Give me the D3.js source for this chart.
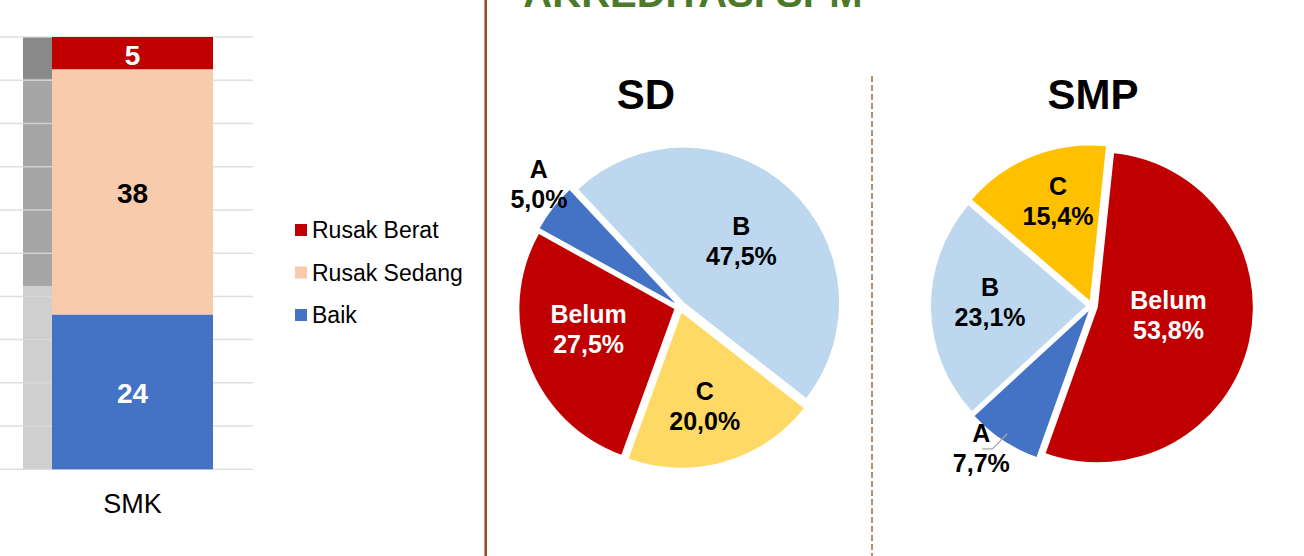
<!DOCTYPE html>
<html>
<head>
<meta charset="utf-8">
<script src="https://cdn.jsdelivr.net/npm/d3@7"></script>
<style>
	html, body { margin: 0; padding: 0; background: #fff; }
	svg { display: block; font-family: "Liberation Sans", Arial, sans-serif; }
</style>
</head>
<body>
<svg id="chart" width="1304" height="556"></svg>
<script>
// ---- data ----
const barCategories = [ "SMK" ];
const barSeries = [ "Baik", "Rusak Sedang", "Rusak Berat" ];
const barBaik = [ 24 ];
const barRusakSedang = [ 38 ];
const barRusakBerat = [ 5 ];
const legendOrder = [ "Rusak Berat", "Rusak Sedang", "Baik" ];
// partly hidden neighbour column on the left edge (shares, bottom to top)
const hiddenShares = [ 0.424, 0.479, 0.097 ];

const pieCategories = [ "Belum", "A", "B", "C" ];
const sdValues = [ 27.5, 5.0, 47.5, 20.0 ];
const smpValues = [ 53.8, 7.7, 23.1, 15.4 ];
const pieTitles = [ "SD", "SMP" ];
const mainTitle = "AKREDITASI SPM";

// ---- styles / layout ----
const barColors = { "Baik": "#4472c4", "Rusak Sedang": "#f8cbad", "Rusak Berat": "#c00000" };
const barLabelColors = { "Baik": "#fff", "Rusak Sedang": "#000", "Rusak Berat": "#fff" };
const hiddenColors = [ "#cfcfcf", "#a6a6a6", "#898989" ];
const sdColors = { "Belum": "#c00000", "A": "#4472c4", "B": "#bdd7ee", "C": "#ffd966" };
const smpColors = { "Belum": "#c00000", "A": "#4472c4", "B": "#bdd7ee", "C": "#ffc000" };
// label placement: [angle nudge from slice middle (deg), distance from centre (px)]
const sdLabelPlace = [ [ 7, 94 ], [ 3, 187 ], [ 0.5, 90 ], [ 2, 102 ] ];
const smpLabelPlace = [ [ -6, 77 ], [ 4.4, 180 ], [ 3, 102 ], [ 3.7, 110 ] ];

const svg = d3.select( "#chart" );

// ---- stacked bar (100%) ----
const y = d3.scaleLinear().domain([ 0, 1 ]).range([ 469.3, 37 ]);
const x = d3.scaleBand().domain( barCategories ).range([ 52, 213 ]).padding( 0 );

const hiddenStack = d3.cumsum( hiddenShares );
svg.append( "g" ).selectAll( "rect" )
	.data( hiddenShares )
	.join( "rect" )
	.attr( "x", 23 )
	.attr( "width", 29 )
	.attr( "y", ( d, i )=> y( hiddenStack[i] ) )
	.attr( "height", ( d, i )=> y( hiddenStack[i] - d ) - y( hiddenStack[i] ) )
	.attr( "fill", ( d, i )=> hiddenColors[i] );

svg.append( "g" ).selectAll( "line" )
	.data( y.ticks( 10 ) )
	.join( "line" )
	.attr( "x1", 0 ).attr( "x2", 253 )
	.attr( "y1", d => y( d ) ).attr( "y2", d => y( d ) )
	.attr( "stroke", "#d9d9d9" )
	.attr( "stroke-opacity", 0.85 )
	.attr( "stroke-width", 1.5 );

const barRows = barCategories.map(( c, i )=> {
	return { cat: c, "Baik": barBaik[i], "Rusak Sedang": barRusakSedang[i], "Rusak Berat": barRusakBerat[i] };
});
const stack = d3.stack().keys( barSeries ).offset( d3.stackOffsetExpand );
const layers = stack( barRows );

const gBars = svg.append( "g" );
layers.forEach( layer => {
	gBars.selectAll( null )
		.data( layer )
		.join( "rect" )
		.attr( "x", d => x( d.data.cat ) )
		.attr( "width", x.bandwidth() )
		.attr( "y", d => y( d[1] ) )
		.attr( "height", d => y( d[0] ) - y( d[1] ) )
		.attr( "fill", barColors[ layer.key ] );
	gBars.selectAll( null )
		.data( layer )
		.join( "text" )
		.attr( "x", d => x( d.data.cat ) + x.bandwidth() / 2 )
		.attr( "y", d => ( y( d[0] ) + y( d[1] ) ) / 2 + 11.5 )
		.attr( "text-anchor", "middle" )
		.attr( "font-size", 28 )
		.attr( "font-weight", "bold" )
		.attr( "fill", barLabelColors[ layer.key ] )
		.text( d => d.data[ layer.key ] );
});

svg.append( "g" ).selectAll( "text" )
	.data( barCategories )
	.join( "text" )
	.attr( "x", d => x( d ) + x.bandwidth() / 2 )
	.attr( "y", 513 )
	.attr( "text-anchor", "middle" )
	.attr( "font-size", 27 )
	.text( d => d );

// legend
const legend = svg.append( "g" ).attr( "transform", "translate(295,238)" );
const legItems = legend.selectAll( "g" )
	.data( legendOrder )
	.join( "g" )
	.attr( "transform", ( d, i )=> "translate(0," + ( i * 42.5 ) + ")" );
legItems.append( "rect" )
	.attr( "x", 0 ).attr( "y", -14 )
	.attr( "width", 12 ).attr( "height", 12 )
	.attr( "fill", d => barColors[d] );
legItems.append( "text" )
	.attr( "x", 17 ).attr( "y", 0 )
	.attr( "font-size", 23 )
	.attr( "fill", "#000" )
	.text( d => d );

// ---- separators and title ----
svg.append( "line" )
	.attr( "x1", 485.7 ).attr( "x2", 485.7 )
	.attr( "y1", 0 ).attr( "y2", 556 )
	.attr( "stroke", "#9c4f1f" ).attr( "stroke-width", 2.6 );

svg.append( "line" )
	.attr( "x1", 872 ).attr( "x2", 872 )
	.attr( "y1", 76 ).attr( "y2", 556 )
	.attr( "stroke", "#b5835a" ).attr( "stroke-width", 1.8 )
	.attr( "stroke-dasharray", "6,3" );

// title sits mostly above the visible area, as in the source slide
svg.append( "text" )
	.attr( "x", 693 ).attr( "y", 7 )
	.attr( "text-anchor", "middle" )
	.attr( "font-size", 40 )
	.attr( "font-weight", "bold" )
	.attr( "fill", "#4b7a2b" )
	.text( mainTitle );

// ---- pies ----
function drawPie( values, colors, place, title, titleX, cx, cy, startDeg ){
	const radius = 155;
	const explode = 6;
	const rad = Math.PI / 180;
	const start = startDeg * rad;
	const pie = d3.pie()
				.sort( null )
				.startAngle( start )
				.endAngle( start + 2 * Math.PI )
				.value( d => d.value );
	const arc = d3.arc().innerRadius( 0 ).outerRadius( radius );
	const data = pieCategories.map(( c, i )=> ({ cat: c, value: values[i], idx: i }));
	const arcs = pie( data );
	const mid = a => ( a.startAngle + a.endAngle ) / 2;
	const polar = ( ang, r )=> [ Math.sin( ang ) * r, -Math.cos( ang ) * r ];
	const labelPos = d => polar( mid( d ) + place[ d.data.idx ][0] * rad, place[ d.data.idx ][1] );

	const g = svg.append( "g" ).attr( "transform", "translate(" + cx + "," + cy + ")" );
	g.selectAll( "path" )
		.data( arcs )
		.join( "path" )
		.attr( "d", arc )
		.attr( "fill", d => colors[ d.data.cat ] )
		.attr( "transform", d => "translate(" + polar( mid( d ), explode ) + ")" );

	const labels = g.selectAll( "text.lbl" )
		.data( arcs )
		.join( "text" )
		.attr( "class", "lbl" )
		.attr( "text-anchor", "middle" )
		.attr( "font-size", 25 )
		.attr( "font-weight", "bold" )
		.attr( "fill", d => d.data.cat === "Belum" ? "#fff" : "#000" )
		.attr( "transform", d => "translate(" + labelPos( d ) + ")" );
	labels.append( "tspan" ).attr( "x", 0 ).attr( "y", -6 ).text( d => d.data.cat );
	labels.append( "tspan" ).attr( "x", 0 ).attr( "y", 24 )
		.text( d => d3.format( ".1f" )( d.data.value ).replace( ".", "," ) + "%" );

	svg.append( "text" )
		.attr( "x", titleX ).attr( "y", 109 )
		.attr( "text-anchor", "middle" )
		.attr( "font-size", 42 )
		.attr( "font-weight", "bold" )
		.text( title );
	return { g, arcs, mid, polar, labelPos, radius, explode };
}

drawPie( sdValues, sdColors, sdLabelPlace, pieTitles[0], 646, 680, 307, 200 );
const smp = drawPie( smpValues, smpColors, smpLabelPlace, pieTitles[1], 1093, 1092, 306, 6 );

// leader line for the small outside label in SMP
const aArc = smp.arcs.find( d => d.data.cat === "A" );
const p0 = smp.polar( smp.mid( aArc ), smp.explode + smp.radius * 0.95 );
const lp = smp.labelPos( aArc );
const p2 = [ lp[0] + 1, lp[1] + 1 ];
const p1 = [ p2[0] + 10, p2[1] ];
smp.g.append( "polyline" )
	.attr( "points", [ p0, p1, p2 ].map( p => p.join( "," ) ).join( " " ) )
	.attr( "fill", "none" )
	.attr( "stroke", "#a6a6a6" )
	.attr( "stroke-width", 1.2 );
</script>
</body>
</html>
